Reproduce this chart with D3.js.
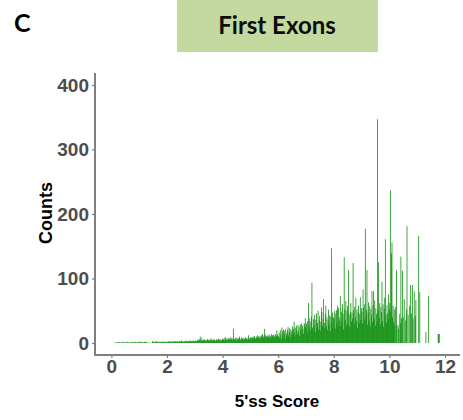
<!DOCTYPE html>
<html>
<head>
<meta charset="utf-8">
<script src="https://cdn.jsdelivr.net/npm/d3@7"></script>
<style>
  html, body { margin: 0; padding: 0; background: #fff; }
  svg { display: block; }
</style>
</head>
<body>
<svg id="chart" width="463" height="420"></svg>
<script>
// Histogram of first-exon 5' splice site scores, 0.02-wide bins.
// One array per integer score band; entry i covers [band + i*0.02, band + (i+1)*0.02).
const binWidth = 0.02;
const counts0 = [0,0,0,0,0,0,1,1,0,1,1,0,1,1,1,0,1,1,0,1,2,1,0,1,1,1,0,1,2,1,1,0,1,1,0,1,1,2,1,0,1,1,1,2,1,1,0,2,1,1];
const counts1 = [1,2,1,1,2,1,0,1,1,2,1,1,1,2,0,0,0,1,0,0,1,0,0,2,3,1,2,1,0,2,3,1,2,1,1,2,1,2,1,1,2,1,3,1,1,2,1,2,2,1];
const counts2 = [2,1,2,3,2,1,2,2,3,1,2,2,3,2,1,3,2,2,3,2,1,2,3,2,2,4,2,3,2,1,3,2,3,2,4,3,2,2,3,2,3,4,2,3,3,2,4,3,2,3];
const counts3 = [3,4,3,2,5,3,4,6,4,10,5,3,8,4,3,5,4,6,3,4,5,3,6,4,5,3,4,6,5,4,7,3,5,4,6,5,4,3,5,6,4,5,7,4,5,6,3,5,4,6];
const counts4 = [6,5,8,4,7,9,5,6,4,8,6,5,7,9,5,6,8,4,7,22,6,5,8,7,4,9,6,5,7,8,10,6,5,7,9,6,8,5,7,6,9,8,6,7,5,8,12,7,6,9];
const counts5 = [7,9,6,8,10,7,9,11,6,8,10,7,12,8,9,11,7,10,8,12,9,14,11,8,10,22,13,9,11,8,10,12,9,13,10,8,11,14,9,12,10,13,11,9,14,12,10,20,13,11];
const counts6 = [10,16,8,20,13,6,24,18,9,21,14,19,7,22,15,11,20,25,12,17,23,9,21,15,19,26,13,22,33,16,24,12,27,20,14,28,18,25,11,29,21,30,16,27,22,14,31,28,39,24];
const counts7 = [30,18,34,15,62,26,38,20,33,41,93,24,19,37,28,44,17,36,46,25,31,50,21,35,42,19,33,55,48,27,38,68,23,31,45,58,26,40,20,36,52,29,43,18,41,147,32,47,24,40];
const counts8 = [38,50,22,46,51,31,58,27,54,40,35,73,26,49,33,60,45,21,133,52,36,65,28,50,57,30,113,44,25,48,62,33,47,38,124,51,29,56,40,70,34,52,23,47,58,31,45,71,36,54];
const counts9 = [48,30,83,55,36,60,177,41,52,113,28,47,63,35,57,26,53,44,80,33,58,81,38,66,27,54,45,31,347,50,125,39,62,29,56,48,95,34,60,25,53,70,161,43,32,59,46,37,75,52];
const counts10 = [62,237,48,139,156,40,58,33,52,29,56,0,113,26,0,28,22,0,45,31,134,38,0,112,40,0,68,0,35,0,52,181,0,44,0,0,58,90,0,46,0,90,38,0,80,0,42,67,0,0];
const counts11 = [0,0,166,0,79,0,0,0,0,0,0,0,0,0,0,17,0,0,0,0,73,0,0,0,0,0,0,0,0,0,0,0,0,0,0,0,0,14,14,14,0,0,0,0,0,0,0,0,0,0];

const bands = [counts0, counts1, counts2, counts3, counts4, counts5,
               counts6, counts7, counts8, counts9, counts10, counts11];

const xTicks = [0, 2, 4, 6, 8, 10, 12];
const yTicks = [0, 100, 200, 300, 400];

const panelLetter = "C";
const panelTitle = "First Exons";
const xTitle = "5'ss Score";
const yTitle = "Counts";

// Flatten the bands into bins
const bins = [];
bands.forEach((arr, band) => {
  arr.forEach((c, i) => {
    bins.push({ x0: band + i * binWidth, x1: band + (i + 1) * binWidth, count: c });
  });
});

const svg = d3.select("#chart");

// Panel letter and title banner
svg.append("text")
  .attr("x", 14).attr("y", 32)
  .attr("font-family", "Lato, 'Open Sans', sans-serif")
  .attr("font-weight", 700)
  .attr("font-size", 25)
  .attr("fill", "#000")
  .text(panelLetter);

svg.append("rect")
  .attr("x", 177).attr("y", -2)
  .attr("width", 201).attr("height", 54)
  .attr("fill", "#c4d9a0");

svg.append("text")
  .attr("x", 277).attr("y", 34)
  .attr("text-anchor", "middle")
  .attr("font-family", "Lato, 'Open Sans', sans-serif")
  .attr("font-weight", 700)
  .attr("font-size", 24)
  .attr("fill", "#0d0d0d")
  .text(panelTitle);

// Plot area
const plotLeft = 95, plotRight = 460, plotTop = 73, plotBottom = 355;
const x = d3.scaleLinear().domain([-0.59, 12.54]).range([plotLeft, plotRight]);
const y = d3.scaleLinear().domain([-18.6, 418.6]).range([plotBottom, plotTop]);

// Bars: slightly wider than a bin so neighbouring bins merge into a solid mass
svg.append("g")
  .selectAll("rect")
  .data(bins.filter(d => d.count > 0))
  .join("rect")
  .attr("x", d => x(d.x0))
  .attr("width", d => (x(d.x1) - x(d.x0)) * 1.35)
  .attr("y", d => y(d.count))
  .attr("height", d => y(0) - y(d.count))
  .attr("fill", "#058a05");

// Axes
const axisColor = "#7f7f7f";
const labelColor = "#4d4d4d";
const tickFont = "'Liberation Sans Narrow', 'Liberation Sans', Arial, sans-serif";
const titleFont = "'Liberation Sans', Arial, sans-serif";

const yAxis = svg.append("g")
  .attr("transform", `translate(${plotLeft},0)`)
  .call(d3.axisLeft(y).tickValues(yTicks).tickSize(3).tickPadding(3).tickFormat(d3.format("d")));

const xAxis = svg.append("g")
  .attr("transform", `translate(0,${plotBottom})`)
  .call(d3.axisBottom(x).tickValues(xTicks).tickSize(3).tickPadding(2).tickFormat(d3.format("d")));

[yAxis, xAxis].forEach(g => {
  g.select(".domain").remove();
  g.selectAll(".tick line").attr("stroke", axisColor).attr("stroke-width", 1.2);
  g.selectAll(".tick text")
    .attr("fill", labelColor)
    .attr("font-family", tickFont)
    .attr("font-weight", 700)
    .attr("font-size", 19);
});

// Axis lines
svg.append("line")
  .attr("x1", plotLeft).attr("x2", plotLeft)
  .attr("y1", plotTop).attr("y2", plotBottom + 1)
  .attr("stroke", axisColor).attr("stroke-width", 2);
svg.append("line")
  .attr("x1", plotLeft - 1).attr("x2", plotRight)
  .attr("y1", plotBottom).attr("y2", plotBottom)
  .attr("stroke", axisColor).attr("stroke-width", 2);

// Axis titles
svg.append("text")
  .attr("x", 277).attr("y", 407)
  .attr("text-anchor", "middle")
  .attr("font-family", titleFont)
  .attr("font-weight", 700)
  .attr("font-size", 17)
  .attr("fill", "#000")
  .text(xTitle);

svg.append("text")
  .attr("transform", "translate(52,213) rotate(-90)")
  .attr("text-anchor", "middle")
  .attr("font-family", titleFont)
  .attr("font-weight", 700)
  .attr("font-size", 18)
  .attr("fill", "#000")
  .text(yTitle);
</script>
</body>
</html>
